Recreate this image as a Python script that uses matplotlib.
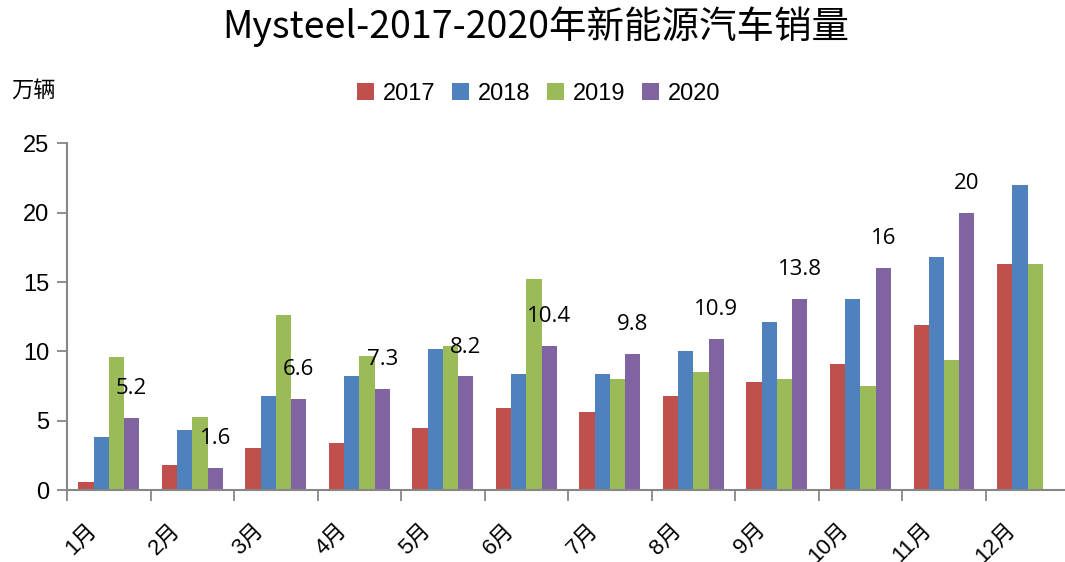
import matplotlib
matplotlib.use("Agg")
import matplotlib.pyplot as plt
from matplotlib.transforms import ScaledTranslation

months = ["1月", "2月", "3月", "4月", "5月", "6月",
          "7月", "8月", "9月", "10月", "11月", "12月"]
years = ["2017", "2018", "2019", "2020"]

# 新能源汽车月度销量（万辆）
sales_2017 = [0.6, 1.8, 3.0, 3.4, 4.5, 5.9, 5.6, 6.8, 7.8, 9.1, 11.9, 16.3]
sales_2018 = [3.8, 4.3, 6.8, 8.2, 10.2, 8.4, 8.4, 10.0, 12.1, 13.8, 16.8, 22.0]
sales_2019 = [9.6, 5.3, 12.6, 9.7, 10.4, 15.2, 8.0, 8.5, 8.0, 7.5, 9.4, 16.3]
sales_2020 = [5.2, 1.6, 6.6, 7.3, 8.2, 10.4, 9.8, 10.9, 13.8, 16.0, 20.0]

colors = ["#C0504D", "#4F81BD", "#9BBB59", "#8064A2"]
axis_gray = "#868686"
cjk = ["Liberation Sans", "Noto Sans CJK SC"]

fig = plt.figure(figsize=(10.65, 5.62), dpi=100)
ax = fig.add_axes([0.063, 0.128, 0.941, 0.617])

bar_w = 0.1825
series = [sales_2017, sales_2018, sales_2019, sales_2020]
for k, (vals, year, col) in enumerate(zip(series, years, colors)):
    xs = [i + (k - 1.5) * bar_w for i in range(len(vals))]
    ax.bar(xs, vals, width=bar_w, color=col, label=year, linewidth=0)

# labels on the 2020 bars
for i, v in enumerate(sales_2020):
    ax.annotate(f"{v:g}", (i + 1.5 * bar_w, v), xytext=(0, 21),
                textcoords="offset points", ha="center", va="center",
                fontsize=16, family="Open Sans", color="black")

ax.set_xlim(-0.5, 11.5)
ax.set_ylim(0, 25)
ax.set_yticks([0, 5, 10, 15, 20, 25])
ax.set_xticks([i - 0.5 for i in range(13)])
ax.set_xticklabels([])
ax.set_xticks(range(12), minor=True)
ax.set_xticklabels(months, minor=True, rotation=45, ha="right",
                   fontsize=16, family=cjk)

ax.tick_params(axis="x", which="major", length=8, width=1.3,
               color=axis_gray, direction="out")
ax.tick_params(axis="x", which="minor", length=0, pad=21)
ax.tick_params(axis="y", length=7, width=1.3, color=axis_gray,
               direction="out", pad=6, labelsize=17)
for lbl in ax.get_yticklabels():
    lbl.set_family("Liberation Sans")
shift = ScaledTranslation(-8 / 100, 0, fig.dpi_scale_trans)
for lbl in ax.get_xticklabels(minor=True):
    lbl.set_transform(lbl.get_transform() + shift)

for side in ["top", "right"]:
    ax.spines[side].set_visible(False)
for side in ["left", "bottom"]:
    ax.spines[side].set_color(axis_gray)
    ax.spines[side].set_linewidth(1.5)

fig.text(0.503, 0.952, "Mysteel-2017-2020年新能源汽车销量",
         ha="center", va="center", fontsize=27, weight="light",
         family="Noto Sans CJK SC")
fig.text(0.011, 0.84, "万辆", ha="left", va="center", fontsize=16,
         family="Noto Sans CJK SC")

fig.legend(loc="center", bbox_to_anchor=(0.506, 0.833), ncol=4,
           frameon=False, handlelength=0.7, handleheight=0.7,
           handletextpad=0.4, columnspacing=0.7,
           prop={"family": "Liberation Sans", "size": 17})

fig.savefig("out.png", dpi=100)
